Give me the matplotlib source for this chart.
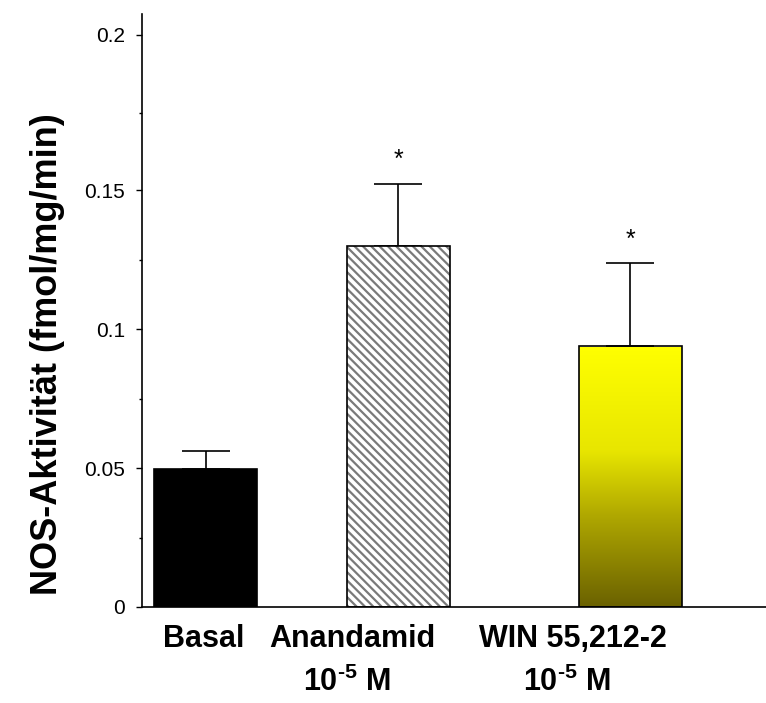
import numpy as np
import matplotlib; matplotlib.use('Agg')
import matplotlib.pyplot as plt
from matplotlib.colors import LinearSegmentedColormap

plt.rcParams['font.family'] = ['Liberation Sans', 'DejaVu Sans']
plt.rcParams['mathtext.fontset'] = 'custom'
plt.rcParams['mathtext.rm'] = 'Liberation Sans:bold'
plt.rcParams['mathtext.bf'] = 'Liberation Sans:bold'
plt.rcParams['hatch.linewidth'] = 1.6

# data
names  = ['Basal', 'Anandamid', 'WIN 55,212-2']
conc   = ['', r'10$^{\text{-}5}$ M', r'10$^{\text{-}5}$ M']
means  = [0.0498, 0.130, 0.0938]
errs   = [0.0065, 0.022, 0.030]
signif = ['', '*', '*']
yticks = [0, 0.05, 0.1, 0.15, 0.2]
ytick_labels = ['0', '0.05', '0.1', '0.15', '0.2']
yminor = [0.025, 0.075, 0.125, 0.175]

# layout (bar width = 1 unit)
xpos   = [0.62, 2.49, 4.74]
name_x = [0.60, 2.04, 4.18]
conc_x = [0.60, 1.99, 4.13]

# the original axis is a bit stretched above 0.15
def fwd(y):
    y = np.asarray(y, dtype=float)
    return np.where(y <= 0.15, y, 0.15 + (y - 0.15) * 1.12)
def inv(y):
    y = np.asarray(y, dtype=float)
    return np.where(y <= 0.15, y, 0.15 + (y - 0.15) / 1.12)

fig = plt.figure(figsize=(7.66, 7.03), dpi=100)
ax = fig.add_axes([142/766, 96/703, 624/766, 593/703])
ax.set_yscale('function', functions=(fwd, inv))

# basal: black
ax.bar(xpos[0], means[0], width=1, color='black', edgecolor='black', lw=1.2, zorder=2)
# anandamid: hatched
ax.bar(xpos[1], means[1], width=1, color='white', edgecolor='#7a7a7a', hatch='\\\\\\\\', lw=0, zorder=2)
ax.bar(xpos[1], means[1], width=1, fill=False, edgecolor='black', lw=1.2, zorder=3)
# WIN: yellow gradient
b = ax.bar(xpos[2], means[2], width=1, fill=False, edgecolor='black', lw=1.2, zorder=3)[0]
cmap = LinearSegmentedColormap.from_list('yg', [(0, '#6b6200'), (0.35, '#b0a800'), (0.6, '#e8e600'), (1, '#ffff00')])
grad = np.linspace(0, 1, 256).reshape(-1, 1)
im = ax.imshow(grad, cmap=cmap, aspect='auto', origin='lower',
               extent=[xpos[2]-0.5, xpos[2]+0.5, 0, means[2]], zorder=2)
im.set_clip_path(b)
ax.set_xlim(0, 624/103)
ax.set_ylim(0, 0.2067)

ax.errorbar(xpos, means, yerr=[[0]*3, errs], fmt='none', ecolor='black',
            elinewidth=1.2, capsize=17, capthick=1.2, zorder=1)
for x, m, e, s in zip(xpos, means, errs, signif):
    if s:
        ax.text(x, m+e+0.004, s, ha='center', va='bottom', fontsize=18)

for sp in ['top', 'right']:
    ax.spines[sp].set_visible(False)
ax.spines['left'].set_linewidth(1.2)
ax.spines['bottom'].set_linewidth(1.2)
ax.set_xticks([])
ax.set_yticks(yticks)
ax.set_yticklabels(ytick_labels, fontsize=15)
ax.set_yticks(yminor, minor=True)
ax.set_yticklabels([], minor=True)
ax.tick_params(axis='y', which='major', length=4, width=1, pad=8)
ax.tick_params(axis='y', which='minor', length=2.5, width=1)

tr = ax.get_xaxis_transform()
for x, n in zip(name_x, names):
    ax.text(x, -40/593, n, transform=tr, ha='center', va='baseline', fontsize=22, fontweight='bold')
for x, c in zip(conc_x, conc):
    if c:
        ax.text(x, -84/593, c, transform=tr, ha='center', va='baseline', fontsize=22, fontweight='bold')

ax.set_ylabel('NOS-Aktivität (fmol/mg/min)', fontsize=26, fontweight='bold')
ax.yaxis.set_label_coords(-0.123, 0.427)

fig.savefig('out.png', dpi=100)
